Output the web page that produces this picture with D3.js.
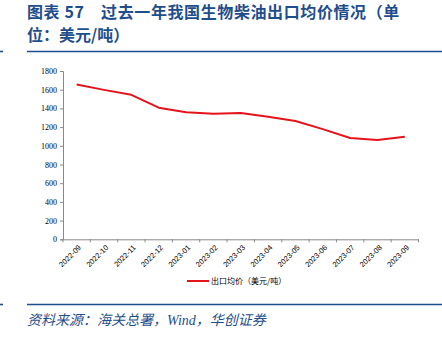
<!DOCTYPE html>
<html><head><meta charset="utf-8">
<script src="https://cdn.jsdelivr.net/npm/d3@7"></script>
<style>
html,body{margin:0;padding:0;background:#fff;}
svg{display:block;}
</style></head>
<body>
<script>
const titleLines = ["图表 57　过去一年我国生物柴油出口均价情况（单", "位：美元/吨）"];
const source = "资料来源：海关总署，Wind，华创证券";
const seriesName = "出口均价（美元/吨）";
const categories = ["2022-09","2022-10","2022-11","2022-12","2023-01","2023-02","2023-03","2023-04","2023-05","2023-06","2023-07","2023-08","2023-09"];
const values = [1655,1598,1545,1408,1360,1343,1352,1311,1265,1178,1083,1062,1097];
const yTicks = [0,200,400,600,800,1000,1200,1400,1600,1800];

const W=442,H=342;
const svg=d3.select("body").append("svg").attr("width",W).attr("height",H);
const blue="#1f4e8c";

// title
const t=svg.append("text").attr("fill",blue).attr("font-family","'Noto Sans CJK SC',sans-serif")
  .attr("font-weight","bold").attr("font-size",16);
t.append("tspan").attr("x",27).attr("y",18).attr("letter-spacing",0.6).text(titleLines[0]);
t.append("tspan").attr("x",27).attr("y",41).text(titleLines[1]);

// rules
[51.5,304.5].forEach(y=>{
  svg.append("line").attr("x1",27).attr("x2",W).attr("y1",y).attr("y2",y).attr("stroke",blue).attr("stroke-width",1.6);
  svg.append("line").attr("x1",0).attr("x2",3).attr("y1",y).attr("y2",y).attr("stroke",blue).attr("stroke-width",1.6);
});

// scales
const x=d3.scaleBand().domain(categories).range([63,418.5]);
const y=d3.scaleLinear().domain([0,1800]).range([239.3,71]);
const axisColor="#898989";

const ya=svg.append("g").attr("transform","translate(63,0)")
  .call(d3.axisLeft(y).tickValues(yTicks).tickSize(3).tickPadding(3).tickFormat(d3.format("d")));
ya.selectAll("text").attr("font-family","'Liberation Serif',serif").attr("font-size",8).attr("fill","#000");
ya.selectAll("line,path").attr("stroke",axisColor);

const xa=svg.append("g").attr("transform","translate(0,239.3)")
  .call(d3.axisBottom(x).tickSize(0).tickFormat(""));
xa.selectAll("path").attr("stroke",axisColor);
// boundary ticks
const bounds=categories.map(c=>x(c)).concat([x.range()[1]]);
xa.selectAll("line.b").data(bounds).enter().append("line").attr("class","b")
  .attr("x1",d=>d).attr("x2",d=>d).attr("y1",0).attr("y2",3).attr("stroke",axisColor);
xa.selectAll("text.l").data(categories).enter().append("text").attr("class","l")
  .attr("transform",d=>`translate(${x(d)+x.bandwidth()/2+3},${7}) rotate(-45)`)
  .attr("text-anchor","end").attr("dy","0.35em")
  .attr("font-family","'Liberation Sans',sans-serif").attr("font-size",7.5).attr("fill","#000")
  .text(d=>d);

// line
const red="#e5131b";
svg.append("path").datum(values)
  .attr("fill","none").attr("stroke",red).attr("stroke-width",2).attr("stroke-linejoin","round")
  .attr("d",d3.line().x((d,i)=>x(categories[i])+x.bandwidth()/2).y(d=>y(d)));

// legend
svg.append("line").attr("x1",187).attr("x2",209).attr("y1",281).attr("y2",281).attr("stroke",red).attr("stroke-width",2);
svg.append("text").attr("x",211).attr("y",284).attr("font-family","'Noto Sans CJK SC',sans-serif")
  .attr("font-size",8).attr("fill","#000").text(seriesName);

// source
svg.append("text").attr("x",27).attr("y",325).attr("fill",blue).attr("font-style","italic")
  .attr("font-family","'Liberation Serif','Noto Sans CJK SC',serif").attr("font-size",14).text(source);
</script>
</body></html>
